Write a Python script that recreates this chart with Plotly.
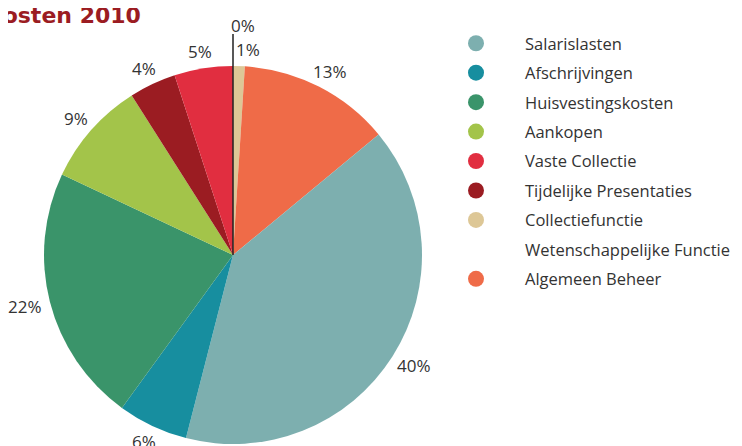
import math
import plotly.graph_objects as go

# Pie data, in clockwise order starting at 12 o'clock
pie_labels = ["Wetenschappelijke Functie", "Collectiefunctie", "Algemeen Beheer", "Salarislasten",
              "Afschrijvingen", "Huisvestingskosten", "Aankopen", "Tijdelijke Presentaties", "Vaste Collectie"]
pie_values = [0, 1, 13, 40, 6, 22, 9, 4, 5]

# Legend order as in the reference
legend_labels = ["Salarislasten", "Afschrijvingen", "Huisvestingskosten", "Aankopen", "Vaste Collectie",
                 "Tijdelijke Presentaties", "Collectiefunctie", "Wetenschappelijke Functie", "Algemeen Beheer"]

colors = {
    "Salarislasten": "#7DAFAF",
    "Afschrijvingen": "#178E9F",
    "Huisvestingskosten": "#3A946A",
    "Aankopen": "#A3C44A",
    "Vaste Collectie": "#E12E40",
    "Tijdelijke Presentaties": "#9B1C22",
    "Collectiefunctie": "#DDC796",
    "Wetenschappelijke Functie": "rgba(0,0,0,0)",
    "Algemeen Beheer": "#EF6B48",
}

FONT = "Open Sans"
TXT = "#333333"
LBL_SIZE = 17

# The page adds an 8px body margin; the figure is sized to fit the window.
OFF = 8
W, H = 742 - OFF, 446 - OFF


def px(x):   # page pixel -> paper x
    return (x - OFF) / W


def py(y):   # page pixel -> paper y
    return 1 - (y - OFF) / H


# pie placement in page pixels
PCX, PCY, R = 233, 255, 189
dom_x = [px(PCX - R), px(PCX + R)]
dom_y = [py(PCY + R), py(PCY - R)]

total = sum(pie_values)
has_zero_line = any(v == 0 for v in pie_values)

fig = go.Figure()

fig.add_trace(go.Pie(
    labels=pie_labels,
    values=pie_values,
    sort=False,
    direction="clockwise",
    rotation=0,
    marker=dict(colors=[colors[l] for l in pie_labels], line=dict(width=0)),
    textinfo="none",
    showlegend=False,
    domain=dict(x=dom_x, y=dom_y),
    hoverinfo="label+percent",
))

for i, lab in enumerate(legend_labels):
    fig.add_trace(go.Scatter(
        x=[None], y=[None], mode="markers", name=lab,
        legendgroup=str(i),
        marker=dict(symbol="circle", size=16, color=colors[lab]),
    ))

# percentage labels, placed around the pie along each slice's mid-angle
annotations = []
cum = 0.0
for lab, v in zip(pie_labels, pie_values):
    pct = round(100 * v / total)
    txt = f"{pct}%"
    mid = (cum + v / 2) / total * 2 * math.pi
    cum += v
    if v == 0:
        # zero slice: a line from the centre up past the rim, label on top
        top = PCY - 222
        annotations.append(dict(text=" ", x=px(PCX), y=py(PCY), xref="paper", yref="paper",
                                ax=0, ay=-(PCY - top), showarrow=True, arrowhead=0, borderpad=0,
                                font=dict(size=1), arrowwidth=1.5, arrowcolor="#222222"))
        annotations.append(dict(text=txt, x=px(PCX - 3), y=py(top + 5), xref="paper", yref="paper",
                                xanchor="left", yanchor="bottom", showarrow=False, borderpad=0,
                                font=dict(family=FONT, size=LBL_SIZE, color=TXT)))
        continue
    dx, dy = math.sin(mid), -math.cos(mid)
    w = 10.5 * len(txt)
    h = 14
    lx = PCX + dx * (R + 10 + w / 2)
    ly = PCY + dy * (R + 10 + h / 2)
    # keep labels clear of the zero-slice line at 12 o'clock
    if has_zero_line and ly < PCY and (lx - w / 2 < PCX + 4) and (lx + w / 2 > PCX - 4):
        lx = PCX + 4 + w / 2 if dx >= 0 else PCX - 4 - w / 2
    annotations.append(dict(text=txt, x=px(lx), y=py(ly), xref="paper", yref="paper",
                            xanchor="center", yanchor="middle", showarrow=False,
                            font=dict(family=FONT, size=LBL_SIZE, color=TXT)))

annotations.append(dict(text="<b>Kosten 2010</b>", x=px(-15), y=py(15), xref="paper", yref="paper",
                        xanchor="left", yanchor="middle", showarrow=False, borderpad=0,
                        font=dict(family="DejaVu Sans", size=22, color="#9B1C22")))

fig.update_layout(
    width=W, height=H,
    margin=dict(l=0, r=0, t=0, b=0, autoexpand=False),
    paper_bgcolor="white", plot_bgcolor="white",
    xaxis=dict(visible=False, domain=[0.9, 1]),
    yaxis=dict(visible=False, domain=[0.9, 1]),
    legend=dict(x=px(427), y=py(26), xanchor="left", yanchor="top",
                font=dict(family=FONT, size=16.5, color=TXT),
                traceorder="grouped", tracegroupgap=5, itemwidth=88,
                bgcolor="rgba(0,0,0,0)"),
    annotations=annotations,
)

fig.write_html("out.html")
